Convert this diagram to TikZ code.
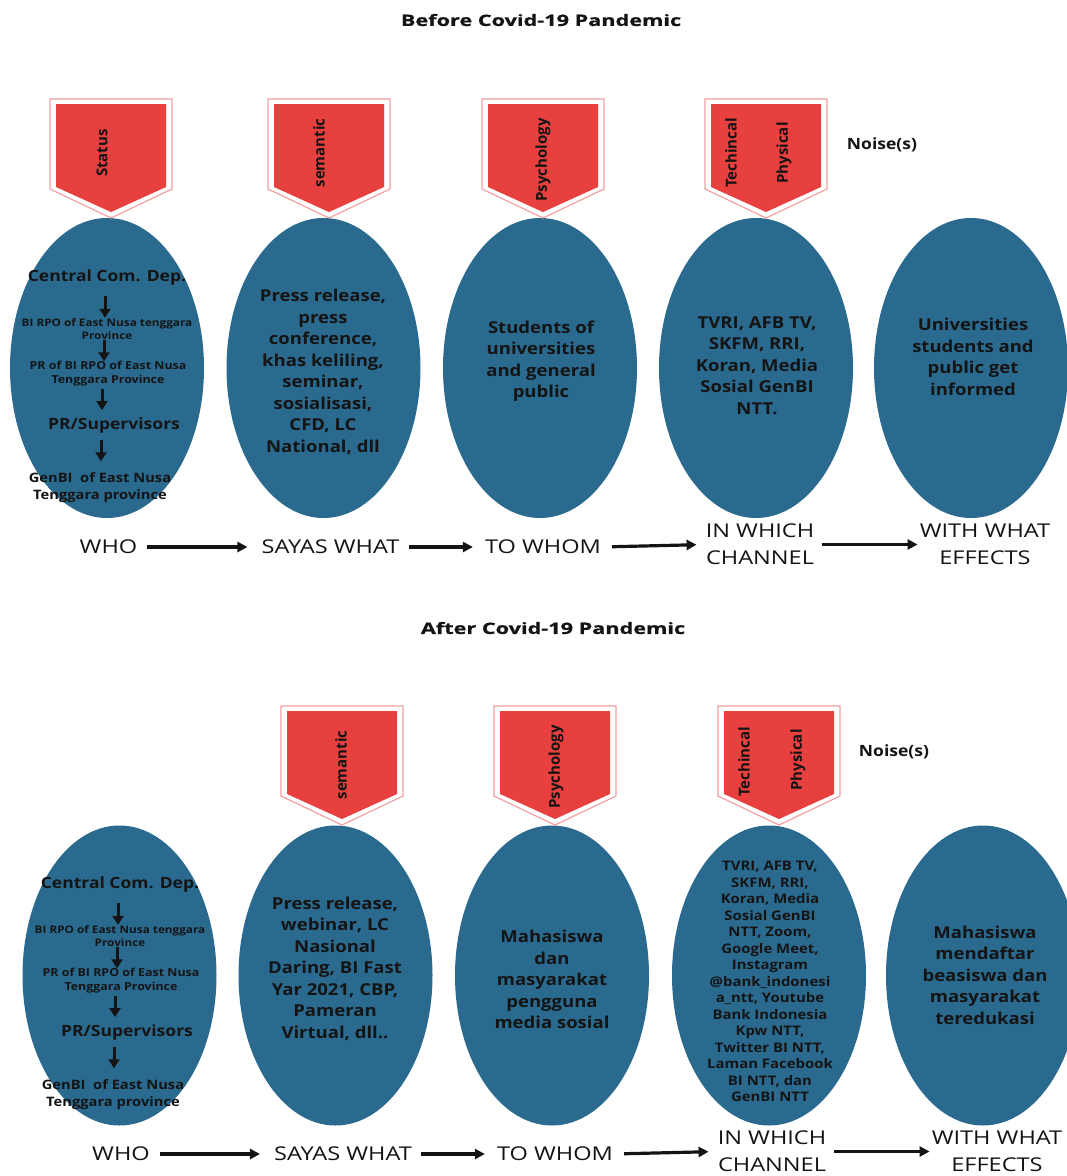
\documentclass[tikz,border=0pt]{standalone}
\usepackage{fontspec}
\setmainfont[FakeStretch=1.13]{Open Sans}
\newfontfamily\bannerfont{Open Sans}
\newfontfamily\titlefont[FakeStretch=1.38,FakeBold=0.8]{Open Sans}
\newfontfamily\lblfont[FakeStretch=1.24]{Open Sans}
\usetikzlibrary{shapes.geometric,arrows.meta}
\definecolor{ellblue}{RGB}{43,106,143}
\definecolor{noisered}{RGB}{232,64,62}
\definecolor{pinkline}{RGB}{245,160,160}
\definecolor{txtc}{RGB}{20,20,20}
\tikzset{
  ell/.style={ellipse, fill=ellblue, draw=none, minimum width=194pt, minimum height=300pt, inner sep=0pt},
  etxt/.style={text=txtc, align=center, inner sep=0pt, font=\bfseries\fontsize{16.4}{21.5}\selectfont},
  stxt/.style={text=txtc, align=center, inner sep=0pt, font=\bfseries\fontsize{13.2}{16.5}\selectfont},
  btxt/.style={rotate=90, text=txtc, inner sep=0pt, font=\bannerfont\bfseries\fontsize{15}{18}\selectfont},
  lbl/.style={text=txtc, align=center, inner sep=0pt, font=\lblfont\fontsize{19}{27}\selectfont},
  ttl/.style={text=txtc, inner sep=0pt, font=\titlefont\bfseries\fontsize{15.7}{18}\selectfont},
  noisetxt/.style={text=txtc, inner sep=0pt, font=\bfseries\fontsize{15.5}{18}\selectfont},
  cbig/.style={text=txtc, align=center, inner sep=0pt, font=\bfseries\fontsize{15.5}{18}\selectfont},
  csmall/.style={text=txtc, align=center, inner sep=0pt, font=\bfseries\fontsize{10.4}{13}\selectfont},
  cmid/.style={text=txtc, align=center, inner sep=0pt, font=\bfseries\fontsize{11}{14}\selectfont},
  cgen/.style={text=txtc, align=center, inner sep=0pt, font=\bfseries\fontsize{13}{17}\selectfont},
  farr/.style={draw=txtc, line width=3.2pt, -{Triangle[length=10pt,width=10pt]}},
  darr/.style={draw=txtc, line width=3pt, -{Triangle[length=9pt,width=11pt]}},
  banner/.pic={
    \draw[draw=pinkline, line width=1.2pt, fill=white] (-61,0) -- (61,0) -- (61,90) -- (0,119) -- (-61,90) -- cycle;
    \fill[noisered] (-55,5) -- (55,5) -- (55,88) -- (0,113) -- (-55,88) -- cycle;
  }
}
\begin{document}
\begin{tikzpicture}[x=1pt, y=-1pt]
\path[use as bounding box] (0,0) rectangle (1067,1176);
\clip (0,0) rectangle (1067,1176);
\fill[white] (0,0) rectangle (1067,1176);

% ===== Before =====
\node[ttl] (t1) at (541,20) {Before Covid-19 Pandemic};

\node[ell] (e1) at (107,368) {};
\node[ell] (e2) at (323.5,368) {};
\node[ell] (e3) at (540,368) {};
\node[ell] (e4) at (756,368) {};
\node[ell] (e5) at (971,368) {};

\pic at (111,99) {banner};
\pic at (329,99) {banner};
\pic at (543,99) {banner};
\pic at (766,99) {banner};
\node[btxt] (b1) at (102,153) {Status};
\node[btxt] (b2) at (319,153) {semantic};
\node[btxt] (b3) at (543,160) {Psychology};
\node[btxt] (b4a) at (731,153) {Techincal};
\node[btxt] (b4b) at (784,153) {Physical};
\node[noisetxt] (n1) at (882,145) {Noise(s)};

\node[cbig] (c1) at (107,277) {Central Com. Dep.};
\node[csmall] (c2) at (107,329.5) {BI RPO of East Nusa tenggara\\Province};
\node[cmid] (c3) at (108,374) {PR of BI RPO of East Nusa\\Tenggara Province};
\node[cbig] (c4) at (114,425) {PR/Supervisors};
\node[cgen] (c5) at (100,487.5) {GenBI\ \ of East Nusa\\Tenggara province};
\draw[darr, shorten <=11pt, shorten >=1pt] ([xshift=-2pt]c1.south) -- ([xshift=-2pt]c2.north);
\draw[darr, shorten <=0pt, shorten >=0pt] ([xshift=-3pt]c2.south) -- ([xshift=-4pt]c3.north);
\draw[darr, shorten <=2.5pt, shorten >=7pt] ([xshift=-6pt]c3.south) -- ([xshift=-12pt]c4.north);
\draw[darr, shorten <=7pt, shorten >=11pt] ([xshift=-13pt]c4.south) -- ([xshift=1pt]c5.north);

\node[etxt] (x2) at (323,372) {Press release,\\press\\conference,\\khas keliling,\\seminar,\\sosialisasi,\\CFD, LC\\National, dll};
\node[etxt] (x3) at (541,361) {Students of\\universities\\and general\\public};
\node[etxt] (x4) at (757,365.5) {TVRI, AFB TV,\\SKFM, RRI,\\Koran, Media\\Sosial GenBI\\NTT.};
\node[etxt] (x5) at (973,357) {Universities\\students and\\public get\\informed};

\node[lbl] (l1) at (108.5,547) {WHO};
\node[lbl] (l2) at (330.5,547) {SAYAS WHAT};
\node[lbl] (l3) at (543,547) {TO WHOM};
\node[lbl] (l4) at (760,544.5) {IN WHICH\\CHANNEL};
\node[lbl] (l5) at (985,544.5) {WITH WHAT\\EFFECTS};
\draw[farr, shorten <=10pt, shorten >=14pt] (l1.east) -- (l2.west);
\draw[farr, shorten <=9pt, shorten >=12pt] (l2.east) -- (l3.west);
\draw[farr, shorten <=11pt, shorten >=9pt] (l3.east) -- (l4.west);
\draw[farr, shorten <=8pt, shorten >=2pt] (l4.east) -- (l5.west);

% ===== After =====
\node[ttl] (t2) at (553,628) {After Covid-19 Pandemic};

\node[ell] (f1) at (119.5,975.5) {};
\node[ell] (f2) at (335.5,975.5) {};
\node[ell] (f3) at (552,975.5) {};
\node[ell] (f4) at (769,975.5) {};
\node[ell] (f5) at (983,975.5) {};

\pic at (342,706) {banner};
\pic at (555,706) {banner};
\pic at (779,706) {banner};
\node[btxt] (g2) at (341,765) {semantic};
\node[btxt] (g3) at (556,767) {Psychology};
\node[btxt] (g4a) at (744,762) {Techincal};
\node[btxt] (g4b) at (798,760) {Physical};
\node[noisetxt] (n2) at (894,752) {Noise(s)};

\node[cbig] (d1) at (120,884) {Central Com. Dep.};
\node[csmall] (d2) at (120,936.5) {BI RPO of East Nusa tenggara\\Province};
\node[cmid] (d3) at (121,981) {PR of BI RPO of East Nusa\\Tenggara Province};
\node[cbig] (d4) at (127,1032) {PR/Supervisors};
\node[cgen] (d5) at (113,1094.5) {GenBI\ \ of East Nusa\\Tenggara province};
\draw[darr, shorten <=11pt, shorten >=1pt] ([xshift=-2pt]d1.south) -- ([xshift=-2pt]d2.north);
\draw[darr, shorten <=0pt, shorten >=0pt] ([xshift=-3pt]d2.south) -- ([xshift=-4pt]d3.north);
\draw[darr, shorten <=2.5pt, shorten >=7pt] ([xshift=-6pt]d3.south) -- ([xshift=-12pt]d4.north);
\draw[darr, shorten <=7pt, shorten >=11pt] ([xshift=-13pt]d4.south) -- ([xshift=1pt]d5.north);

\node[etxt] (y2) at (335,968.5) {Press release,\\webinar, LC\\Nasional\\Daring, BI Fast\\Yar 2021, CBP,\\Pameran\\Virtual, dll..};
\node[etxt] (y3) at (552,979.5) {Mahasiswa\\dan\\masyarakat\\pengguna\\media sosial};
\node[stxt] (y4) at (770,981.5) {TVRI, AFB TV,\\SKFM, RRI,\\Koran, Media\\Sosial GenBI\\NTT, Zoom,\\Google Meet,\\Instagram\\@bank\_indonesi\\a\_ntt, Youtube\\Bank Indonesia\\Kpw NTT,\\Twitter BI NTT,\\Laman Facebook\\BI NTT, dan\\GenBI NTT};
\node[etxt] (y5) at (985,975) {Mahasiswa\\mendaftar\\beasiswa dan\\masyarakat\\teredukasi};

\node[lbl] (m1) at (121,1154) {WHO};
\node[lbl] (m2) at (343,1154) {SAYAS WHAT};
\node[lbl] (m3) at (555,1154) {TO WHOM};
\node[lbl] (m4) at (772,1151.5) {IN WHICH\\CHANNEL};
\node[lbl] (m5) at (997,1151.5) {WITH WHAT\\EFFECTS};
\draw[farr, shorten <=10pt, shorten >=14pt] (m1.east) -- (m2.west);
\draw[farr, shorten <=9pt, shorten >=12pt] (m2.east) -- (m3.west);
\draw[farr, shorten <=11pt, shorten >=9pt] (m3.east) -- (m4.west);
\draw[farr, shorten <=8pt, shorten >=2pt] (m4.east) -- (m5.west);
\end{tikzpicture}
\end{document}
